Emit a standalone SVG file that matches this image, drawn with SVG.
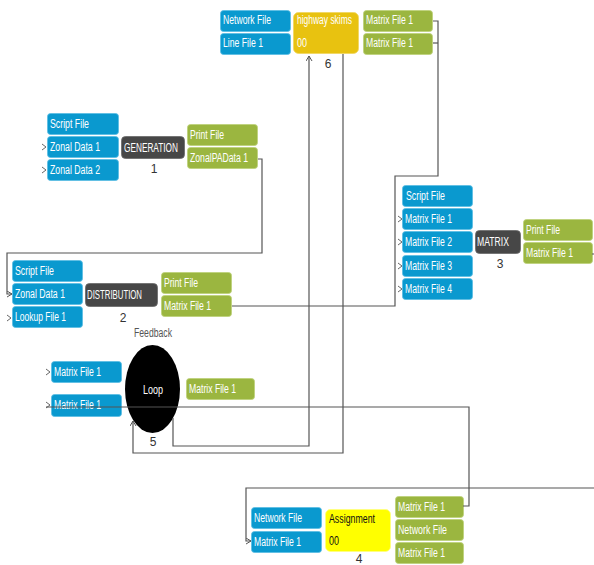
<svg xmlns="http://www.w3.org/2000/svg" width="594" height="565" viewBox="0 0 594 565">
<defs>
<style>
.b{fill:#0a99cf;stroke:#5bbde3;stroke-width:0.8}
.g{fill:#9bb640;stroke:#bcd07a;stroke-width:0.8}
.d{fill:#474747;stroke:#6a6a6a;stroke-width:0.8}
.t{font-family:"Liberation Sans",Arial,sans-serif;font-size:12px;fill:#ffffff}
.k{fill:#111111}
.n{font-family:"Liberation Sans",Arial,sans-serif;font-size:12px;fill:#333333;text-anchor:middle}
.f{font-family:"Liberation Sans",Arial,sans-serif;font-size:12px;fill:#555555;text-anchor:middle}
.c{fill:none;stroke:#555555;stroke-width:1.2}
.a{fill:none;stroke:#666666;stroke-width:1}
</style>
<marker id="arr" markerUnits="userSpaceOnUse" markerWidth="8" markerHeight="8" refX="5" refY="3" orient="auto">
<path d="M0,0 L5,3 L0,6" fill="none" stroke="#555555" stroke-width="1"/>
</marker>
</defs>
<rect width="594" height="565" fill="#ffffff"/>

<g id="node6">
<rect class="b" x="220.5" y="10.5" width="70" height="21" rx="3"/>
<text class="t" x="223" y="24" textLength="48" lengthAdjust="spacingAndGlyphs">Network File</text>
<rect class="b" x="220.5" y="33.5" width="70" height="21" rx="3"/>
<text class="t" x="223" y="47" textLength="40" lengthAdjust="spacingAndGlyphs">Line File 1</text>
<rect x="293.5" y="12.5" width="65" height="41" rx="5" fill="#e8c210" stroke="#f0d660" stroke-width="0.8"/>
<text class="t" x="297" y="24" textLength="55" lengthAdjust="spacingAndGlyphs">highway skims</text>
<text class="t" x="297" y="47" textLength="10" lengthAdjust="spacingAndGlyphs">00</text>
<text class="n" x="328" y="68">6</text>
<rect class="g" x="363.5" y="10.5" width="69" height="21" rx="3"/>
<text class="t" x="366" y="24" textLength="47" lengthAdjust="spacingAndGlyphs">Matrix File 1</text>
<rect class="g" x="363.5" y="33.5" width="69" height="21" rx="3"/>
<text class="t" x="366" y="47" textLength="47" lengthAdjust="spacingAndGlyphs">Matrix File 1</text>
</g>

<g id="node1">
<rect class="b" x="47.5" y="113.5" width="71" height="21" rx="3"/>
<text class="t" x="50" y="128" textLength="39" lengthAdjust="spacingAndGlyphs">Script File</text>
<rect class="b" x="47.5" y="136.5" width="71" height="21" rx="3"/>
<text class="t" x="50" y="151" textLength="50" lengthAdjust="spacingAndGlyphs">Zonal Data 1</text>
<rect class="b" x="47.5" y="159.5" width="71" height="21" rx="3"/>
<text class="t" x="50" y="174" textLength="50" lengthAdjust="spacingAndGlyphs">Zonal Data 2</text>
<polyline class="a" points="42,144 46,147 42,150"/>
<polyline class="a" points="42,167 46,170 42,173"/>
<rect class="d" x="121.5" y="136.5" width="63" height="22" rx="4"/>
<text class="t" x="124" y="152" textLength="54" lengthAdjust="spacingAndGlyphs">GENERATION</text>
<text class="n" x="154" y="173">1</text>
<rect class="g" x="187.5" y="124.5" width="70" height="21" rx="3"/>
<text class="t" x="190" y="139" textLength="34" lengthAdjust="spacingAndGlyphs">Print File</text>
<rect class="g" x="187.5" y="147.5" width="70" height="21" rx="3"/>
<text class="t" x="190" y="162" textLength="58" lengthAdjust="spacingAndGlyphs">ZonalPAData 1</text>
</g>

<g id="node2">
<rect class="b" x="12.5" y="260.5" width="70" height="21" rx="3"/>
<text class="t" x="15" y="275" textLength="39" lengthAdjust="spacingAndGlyphs">Script File</text>
<rect class="b" x="12.5" y="283.5" width="70" height="21" rx="3"/>
<text class="t" x="15" y="298" textLength="50" lengthAdjust="spacingAndGlyphs">Zonal Data 1</text>
<rect class="b" x="12.5" y="306.5" width="70" height="21" rx="3"/>
<text class="t" x="15" y="321" textLength="51" lengthAdjust="spacingAndGlyphs">Lookup File 1</text>
<polyline class="a" points="7,315 11,318 7,321"/>
<rect class="d" x="85.5" y="283.5" width="72" height="23" rx="4"/>
<text class="t" x="87" y="299" textLength="55" lengthAdjust="spacingAndGlyphs">DISTRIBUTION</text>
<text class="n" x="123" y="322">2</text>
<rect class="g" x="161.5" y="272.5" width="70" height="21" rx="3"/>
<text class="t" x="164" y="287" textLength="34" lengthAdjust="spacingAndGlyphs">Print File</text>
<rect class="g" x="161.5" y="295.5" width="70" height="21" rx="3"/>
<text class="t" x="164" y="310" textLength="47" lengthAdjust="spacingAndGlyphs">Matrix File 1</text>
</g>

<g id="node3">
<rect class="b" x="402.5" y="185.5" width="70" height="21" rx="3"/>
<text class="t" x="406" y="200" textLength="39" lengthAdjust="spacingAndGlyphs">Script File</text>
<rect class="b" x="402.5" y="208.5" width="70" height="21" rx="3"/>
<text class="t" x="405" y="223" textLength="47" lengthAdjust="spacingAndGlyphs">Matrix File 1</text>
<rect class="b" x="402.5" y="231.5" width="70" height="21" rx="3"/>
<text class="t" x="405" y="246" textLength="47" lengthAdjust="spacingAndGlyphs">Matrix File 2</text>
<rect class="b" x="402.5" y="255.5" width="70" height="21" rx="3"/>
<text class="t" x="405" y="270" textLength="47" lengthAdjust="spacingAndGlyphs">Matrix File 3</text>
<rect class="b" x="402.5" y="278.5" width="70" height="21" rx="3"/>
<text class="t" x="405" y="293" textLength="47" lengthAdjust="spacingAndGlyphs">Matrix File 4</text>
<polyline class="a" points="398,216 402,219 398,222"/>
<polyline class="a" points="398,239 402,242 398,245"/>
<polyline class="a" points="398,263 402,266 398,269"/>
<polyline class="a" points="398,286 402,289 398,292"/>
<rect class="d" x="475.5" y="230.5" width="45" height="23" rx="4"/>
<text class="t" x="477" y="246" textLength="32" lengthAdjust="spacingAndGlyphs">MATRIX</text>
<text class="n" x="500" y="268">3</text>
<rect class="g" x="523.5" y="219.5" width="69" height="21" rx="3"/>
<text class="t" x="526" y="234" textLength="34" lengthAdjust="spacingAndGlyphs">Print File</text>
<rect class="g" x="523.5" y="242.5" width="69" height="21" rx="3"/>
<text class="t" x="526" y="257" textLength="47" lengthAdjust="spacingAndGlyphs">Matrix File 1</text>
</g>

<g id="node5">
<text class="f" x="153" y="337" textLength="38" lengthAdjust="spacingAndGlyphs">Feedback</text>
<rect class="b" x="51.5" y="361.5" width="70" height="21" rx="3"/>
<text class="t" x="54" y="376" textLength="47" lengthAdjust="spacingAndGlyphs">Matrix File 1</text>
<rect class="b" x="51.5" y="394.5" width="70" height="22" rx="3"/>
<text class="t" x="54" y="409" textLength="47" lengthAdjust="spacingAndGlyphs">Matrix File 1</text>
<polyline class="a" points="46,369 50,372 46,375"/>
<polyline class="a" points="46,402 50,405 46,408"/>
<ellipse cx="152.5" cy="389" rx="27.5" ry="44" fill="#000000"/>
<text class="t" x="153" y="394" text-anchor="middle" textLength="20" lengthAdjust="spacingAndGlyphs">Loop</text>
<text class="n" x="153" y="446">5</text>
<rect class="g" x="186.5" y="378.5" width="68" height="21" rx="3"/>
<text class="t" x="189" y="393" textLength="47" lengthAdjust="spacingAndGlyphs">Matrix File 1</text>
</g>

<g id="node4">
<rect class="b" x="251.5" y="507.5" width="70" height="21" rx="3"/>
<text class="t" x="254" y="522" textLength="48" lengthAdjust="spacingAndGlyphs">Network File</text>
<rect class="b" x="251.5" y="531.5" width="70" height="21" rx="3"/>
<text class="t" x="254" y="546" textLength="47" lengthAdjust="spacingAndGlyphs">Matrix File 1</text>
<rect x="325.5" y="509.5" width="65" height="42" rx="5" fill="#ffff00" stroke="#ffff80" stroke-width="0.8"/>
<text class="t k" x="329" y="523" textLength="46" lengthAdjust="spacingAndGlyphs">Assignment</text>
<text class="t k" x="329" y="545" textLength="10" lengthAdjust="spacingAndGlyphs">00</text>
<text class="n" x="359" y="563">4</text>
<rect class="g" x="395.5" y="496.5" width="68" height="21" rx="3"/>
<text class="t" x="398" y="511" textLength="47" lengthAdjust="spacingAndGlyphs">Matrix File 1</text>
<rect class="g" x="395.5" y="519.5" width="68" height="21" rx="3"/>
<text class="t" x="398" y="534" textLength="49" lengthAdjust="spacingAndGlyphs">Network File</text>
<rect class="g" x="395.5" y="542.5" width="68" height="21" rx="3"/>
<text class="t" x="398" y="557" textLength="47" lengthAdjust="spacingAndGlyphs">Matrix File 1</text>
</g>

<g id="connectors">
<path class="c" d="M258,159 H262 V253 H7 V294 H12" marker-end="url(#arr)"/>
<path class="c" d="M433,21 H438 V176 H395 V306 H232"/>
<path class="c" d="M433,43 H438"/>
<path class="c" d="M173,418 V446 H309 V56" marker-end="url(#arr)"/>
<path class="c" d="M343,54 V453 H133 V421" marker-end="url(#arr)"/>
<path class="c" d="M463,506 H469 V407 H46"/>
<path class="c" d="M592,254 H594"/>
<path class="c" d="M594,488 H246 V541 H251" marker-end="url(#arr)"/>
</g>
</svg>
